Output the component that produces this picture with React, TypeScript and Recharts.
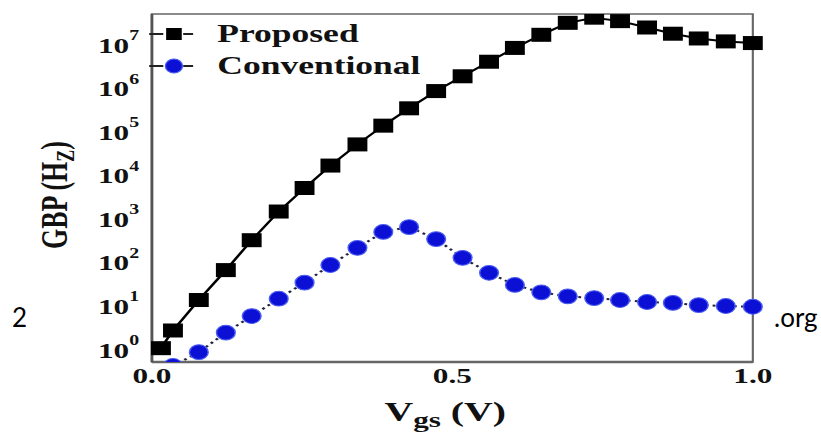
import { LineChart, Line, XAxis, YAxis, ReferenceArea, Legend, Label } from "recharts"

// gate voltage (V) of each sample
const vgs = [
  0.015, 0.035, 0.078, 0.123, 0.166, 0.211, 0.254, 0.297, 0.342, 0.385, 0.428, 0.473,
  0.517, 0.561, 0.604, 0.648, 0.692, 0.736, 0.779, 0.824, 0.867, 0.91, 0.955, 1.0,
]

// GBP in Hz
const proposedGbp = [
  1.1, 2.8, 14, 68, 330, 1500, 5200, 17000, 52000, 1.4e5, 3.5e5, 8.7e5,
  1.9e6, 4.1e6, 8.5e6, 1.7e7, 3.2e7, 4.2e7, 3.5e7, 2.5e7, 1.8e7, 1.4e7, 1.2e7, 1.1e7,
]
const conventionalGbp = [
  null, 0.43, 0.89, 2.5, 6.0, 15, 35, 89, 220, 510, 660, 350,
  130, 59, 31, 21, 17, 15.5, 14, 12.6, 12, 10.7, 10.2, 9.8,
]

const seriesOrder = ["proposed", "conventional"]
const xTicks = [0, 0.5, 1]
const yTicks = [1, 10, 1e2, 1e3, 1e4, 1e5, 1e6, 1e7]
const yDomain = [0.53, 5.1e7]

const data = vgs.map((v, i) => ({
  vgs: v,
  proposed: proposedGbp[i],
  conventional: conventionalGbp[i],
}))

// the original figure is stretched sideways, so the chart is drawn narrow and scaled
const STRETCH = 1.42
const H = 434
const W = 821 / STRETCH
const serif = "'Liberation Serif', 'Times New Roman', serif"
const blue = "#0c10d4"

function SquareDot(props: any) {
  const { cx, cy, index } = props
  if (cx == null || cy == null) return <g key={`s${index}`} />
  return <rect key={`s${index}`} x={cx - 7} y={cy - 7} width={14} height={14} fill="#000" />
}

function EllipseDot(props: any) {
  const { cx, cy, index } = props
  if (cx == null || cy == null) return <g key={`c${index}`} />
  return <ellipse key={`c${index}`} cx={cx} cy={cy} rx={6.6} ry={7.4} fill={blue} stroke="#4b5cf2" strokeWidth={1} />
}

function YTick({ x, y, payload }: any) {
  const exp = Math.round(Math.log10(payload.value))
  return (
    <text x={x} y={y} textAnchor="end" fontFamily={serif} fontWeight="bold" fill="#111">
      <tspan fontSize={22} dy="0.35em">10</tspan>
      <tspan fontSize={14} dy="-0.9em">{exp}</tspan>
    </text>
  )
}

function XTick({ x, y, payload }: any) {
  return (
    <text x={x} y={y} dy={15} textAnchor="middle" fontFamily={serif} fontWeight="bold" fontSize={22} fill="#111">
      {payload.value.toFixed(1)}
    </text>
  )
}

function XTitle({ viewBox }: any) {
  const cx = viewBox.x + viewBox.width / 2 - 5
  return (
    <text x={cx} y={viewBox.y + 59} textAnchor="middle" fontFamily={serif} fontWeight="bold" fontSize={28} fill="#111">
      <tspan>V</tspan>
      <tspan fontSize={22} dy={6}>gs</tspan>
      <tspan dy={-6}> (V)</tspan>
    </text>
  )
}

function YTitle() {
  return (
    <text transform="translate(47, 195) rotate(-90)" textAnchor="middle" fontFamily={serif} fontWeight="bold" fontSize={26} fill="#111">
      <tspan>GBP (H</tspan>
      <tspan fontSize={18} dy={5}>Z</tspan>
      <tspan dy={-5}>)</tspan>
    </text>
  )
}

function LegendBox({ payload }: any) {
  const items = [...(payload || [])].sort(
    (a: any, b: any) => seriesOrder.indexOf(a.dataKey) - seriesOrder.indexOf(b.dataKey)
  )
  return (
    <div style={{ fontFamily: serif, fontWeight: "bold", fontSize: 25, color: "#111" }}>
      {items.map((p: any) => {
        const isSquare = p.dataKey === "proposed"
        return (
          <div key={p.value} style={{ display: "flex", alignItems: "center", height: 32 }}>
            <svg width={32} height={20}>
              <line x1={0} y1={10} x2={10} y2={10} stroke="#222" strokeWidth={2} />
              <line x1={24} y1={10} x2={31} y2={10} stroke="#222" strokeWidth={2} />
              {isSquare ? (
                <rect x={12} y={4} width={11} height={12} fill="#000" />
              ) : (
                <ellipse cx={17.5} cy={10} rx={6} ry={7} fill={blue} stroke="#4b5cf2" strokeWidth={1} />
              )}
            </svg>
            <span style={{ marginLeft: 16, lineHeight: "32px" }}>{p.value}</span>
          </div>
        )
      })}
    </div>
  )
}

export default function App() {
  return (
    <div style={{ position: "absolute", left: 0, top: 0, width: 821, height: H, overflow: "hidden", background: "#fff" }}>
      <div style={{ width: W, height: H, transform: `scaleX(${STRETCH})`, transformOrigin: "0 0" }}>
        <LineChart width={W} height={H} data={data} margin={{ top: 14, right: 48, left: 0, bottom: 0 }}>
          <XAxis
            dataKey="vgs"
            type="number"
            domain={[0, 1]}
            ticks={xTicks}
            height={72}
            tickLine={false}
            tickMargin={0}
            axisLine={{ stroke: "#666", strokeWidth: 2.5 }}
            tick={<XTick />}
          >
            <Label content={<XTitle />} />
          </XAxis>
          <YAxis
            scale="log"
            domain={yDomain}
            allowDataOverflow
            ticks={yTicks}
            width={107}
            tickLine={false}
            tickMargin={3}
            axisLine={{ stroke: "#555", strokeWidth: 2 }}
            tick={<YTick />}
          >
            <Label content={<YTitle />} />
          </YAxis>
          <ReferenceArea x1={0} x2={1} y1={yDomain[0]} y2={yDomain[1]} fill="none" stroke="#666" strokeWidth={1.5} />
          <Legend
            layout="vertical"
            align="center"
            verticalAlign="middle"
            wrapperStyle={{ left: 105, top: 18, width: "auto" }}
            content={<LegendBox />}
          />
          <Line
            dataKey="proposed"
            name="Proposed"
            stroke="#000"
            strokeWidth={2}
            dot={SquareDot}
            isAnimationActive={false}
          />
          <Line
            dataKey="conventional"
            name="Conventional"
            stroke="#23233f"
            strokeWidth={2}
            strokeDasharray="2 3"
            dot={EllipseDot}
            isAnimationActive={false}
          />
        </LineChart>
      </div>
      <svg width={821} height={H} style={{ position: "absolute", left: 0, top: 0, pointerEvents: "none" }}>
        <text x={12} y={327} fontFamily="Lato, sans-serif" fontSize={26} fill="#000">2</text>
        <text x={774} y={327} fontFamily="Lato, sans-serif" fontSize={26} fill="#000">.org</text>
      </svg>
    </div>
  )
}
